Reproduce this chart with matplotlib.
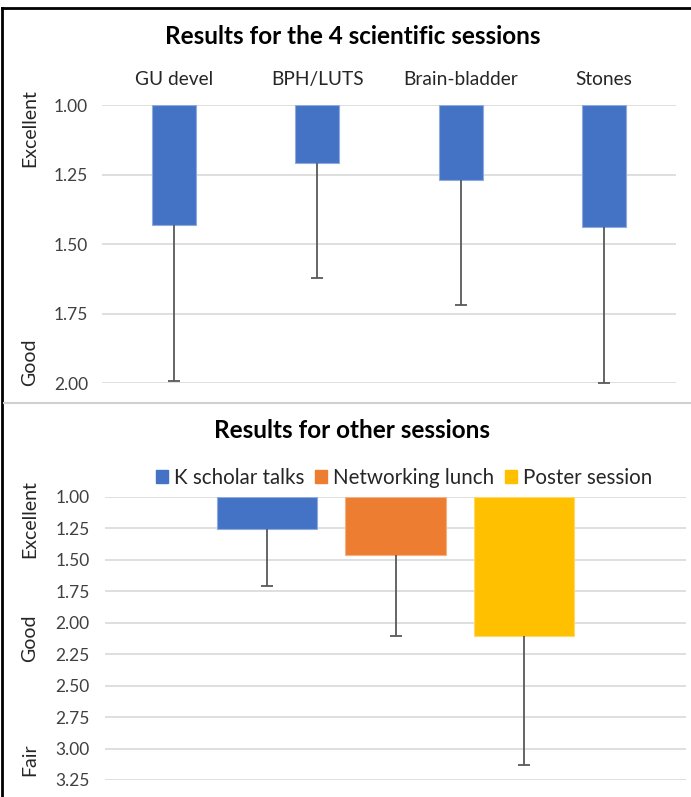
import matplotlib.pyplot as plt
from matplotlib.lines import Line2D
from matplotlib.patches import Patch

# data
sessions = ['GU devel', 'BPH/LUTS', 'Brain-bladder', 'Stones']
session_mean = [1.43, 1.21, 1.27, 1.44]
session_err = [0.56, 0.41, 0.45, 0.56]

other = ['K scholar talks', 'Networking lunch', 'Poster session']
other_mean = [1.26, 1.46, 2.11]
other_err = [0.45, 0.65, 1.02]
other_colors = ['#4472C4', '#ED7D31', '#FFC000']
other_edges = ['#8FAADC', '#F4B183', '#FFD966']

top_ticks = [1.00, 1.25, 1.50, 1.75, 2.00]
bottom_ticks = [1.00, 1.25, 1.50, 1.75, 2.00, 2.25, 2.50, 2.75, 3.00, 3.25]

plt.rcParams['font.family'] = ['Lato', 'DejaVu Sans']
W, H = 691, 797
fig = plt.figure(figsize=(W / 100, H / 100), dpi=100)


def fx(px):
    return px / W


def fy(py):
    return 1 - py / H


grid_col = '#D9D9D9'
err_col = '#595959'
txt_col = '#262626'


def plus_error(ax, xs, means, errs):
    # only the "plus" side, cap on the far end only (like Excel)
    tips = [m + e for m, e in zip(means, errs)]
    ax.vlines(xs, means, tips, color=err_col, lw=1.3, zorder=4)
    ax.plot(xs, tips, ls='none', marker='_', ms=8, mew=1.3, color=err_col, zorder=4)


# ---- top chart
ax1 = fig.add_axes([fx(102), fy(383.3), fx(676 - 102), (383.3 - 105) / H])
x1 = list(range(len(sessions)))
heights = [m - 1 for m in session_mean]
ax1.bar(x1, heights, bottom=1, width=0.31, color='#4472C4', edgecolor='#8FAADC', linewidth=0.8, zorder=3)
plus_error(ax1, x1, session_mean, session_err)
ax1.set_xlim(-0.5, len(sessions) - 0.5)
ax1.set_ylim(2.0, 1.0)
ax1.set_yticks(top_ticks)
ax1.set_yticklabels(['%.2f' % t for t in top_ticks])
ax1.xaxis.tick_top()
ax1.set_xticks(x1)
ax1.set_xticklabels(sessions, fontsize=13.8, color=txt_col)
ax1.tick_params(axis='x', length=0, pad=12)
ax1.tick_params(axis='y', length=0, pad=10, labelsize=12.5, labelcolor='#404040')
ax1.grid(axis='y', color=grid_col, linewidth=1.2, zorder=0)
for s in ax1.spines.values():
    s.set_visible(False)

# ---- bottom chart
ax2 = fig.add_axes([fx(105), fy(780), fx(686 - 105), (780 - 496.7) / H])
x2 = [-1, 0, 1]
for xi, m, c, ec in zip(x2, other_mean, other_colors, other_edges):
    ax2.bar(xi, m - 1, bottom=1, width=0.78, color=c, edgecolor=ec, linewidth=0.8, zorder=3)
plus_error(ax2, x2, other_mean, other_err)
ax2.set_xlim(-2.26, 2.26)
ax2.set_ylim(3.25, 1.0)
ax2.set_yticks(bottom_ticks)
ax2.set_yticklabels(['%.2f' % t for t in bottom_ticks])
ax2.set_xticks([])
ax2.tick_params(axis='y', length=0, pad=11, labelsize=12.5, labelcolor='#404040')
ax2.grid(axis='y', color=grid_col, linewidth=1.2, zorder=0)
for s in ax2.spines.values():
    s.set_visible(False)

handles = [Patch(facecolor=c, edgecolor=c) for c in other_colors]
fig.legend(handles, other, loc='center', bbox_to_anchor=(fx(404), fy(478)), ncol=3,
           frameon=False, fontsize=14.8, handlelength=0.6, handleheight=0.6,
           handletextpad=0.3, columnspacing=0.5, labelcolor=txt_col)

# titles and rating labels
fig.text(fx(353), fy(37), 'Results for the 4 scientific sessions', ha='center', va='center',
         fontsize=17.5, fontweight='bold', color='black')
fig.text(fx(352), fy(430), 'Results for other sessions', ha='center', va='center',
         fontsize=17.5, fontweight='bold', color='black')
for label, ypx in [('Excellent', 128), ('Good', 362), ('Excellent', 519), ('Good', 638), ('Fair', 760)]:
    fig.text(fx(30), fy(ypx), label, rotation=90, ha='center', va='center', fontsize=14, color=txt_col)

# frame around the panels
fig.add_artist(Line2D([fx(2), fx(2)], [fy(8), fy(797)], color='black', lw=2))
fig.add_artist(Line2D([fx(2), fx(691)], [fy(8), fy(8)], color='black', lw=2))
fig.add_artist(Line2D([fx(4), fx(691)], [fy(403), fy(403)], color='#D0D0D0', lw=1.5))

fig.savefig('out.png', dpi=100)
